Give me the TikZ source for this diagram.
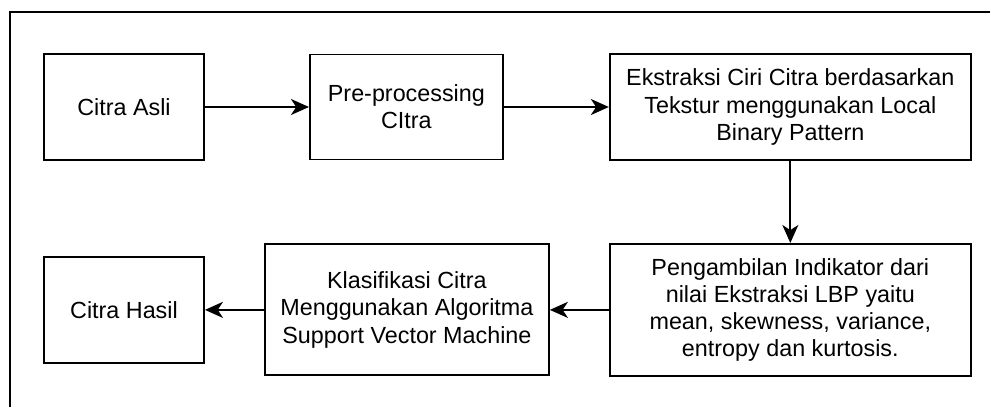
\documentclass[tikz,border=0pt]{standalone}
\usepackage{fontspec}
\setmainfont{Liberation Sans}
\usetikzlibrary{arrows.meta,positioning}

\begin{document}
\begin{tikzpicture}[
  x=0.025cm, y=-0.025cm,
  procbox/.style={draw, line width=1.3pt, align=center, inner sep=2pt,
               font=\fontsize{16.6pt}{19.3pt}\selectfont},
  arr/.style={-{Stealth[length=0.45cm, width=0.4cm, inset=0.13cm]}, line width=1.3pt},
  node distance=2.6cm
]
\useasboundingbox (0,0) rectangle (990,407);
% outer frame (only left and top edges visible)
\draw[line width=1.3pt] (10,407) |- (990,12);

\node[procbox, minimum width=4cm, minimum height=2.65cm] (asli) at (124,107) {Citra Asli};
\node[procbox, minimum width=4.825cm, minimum height=2.625cm, right=of asli] (pre) {Pre-processing\\CItra};
\node[procbox, minimum width=9.025cm, minimum height=2.65cm, right=2.625cm of pre] (ekstraksi) {Ekstraksi Ciri Citra berdasarkan\\Tekstur menggunakan Local\\Binary Pattern};
\node[procbox, minimum width=9.025cm, minimum height=3.3cm, below=2.05cm of ekstraksi] (indikator) {Pengambilan Indikator dari\\nilai Ekstraksi LBP yaitu\\mean, skewness, variance,\\entropy dan kurtosis.};
\node[procbox, minimum width=7.1cm, minimum height=3.275cm, left=1.475cm of indikator] (klasifikasi) {Klasifikasi Citra\\Menggunakan Algoritma\\Support Vector Machine};
\node[procbox, minimum width=4cm, minimum height=2.65cm, left=1.475cm of klasifikasi] (hasil) {Citra Hasil};

\draw[arr] (asli) -- (pre);
\draw[arr] (pre) -- (ekstraksi);
\draw[arr] (ekstraksi) -- (indikator);
\draw[arr] (indikator) -- (klasifikasi);
\draw[arr] (klasifikasi) -- (hasil);
\end{tikzpicture}
\end{document}
